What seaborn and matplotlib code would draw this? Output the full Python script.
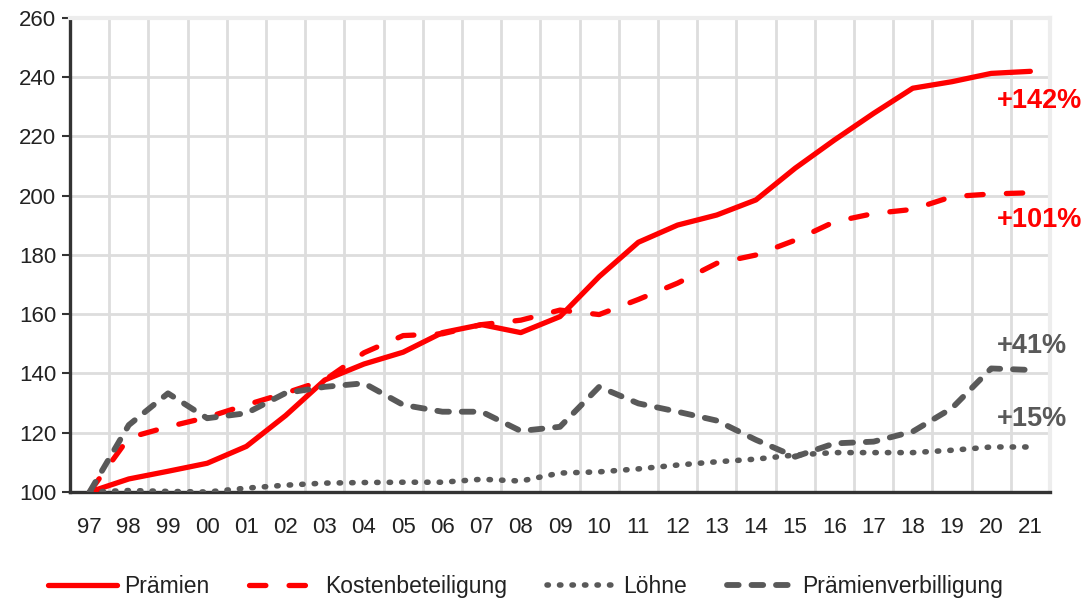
import numpy as np
import pandas as pd
import matplotlib
matplotlib.use("Agg")
import matplotlib.pyplot as plt
import seaborn as sns

years = ["97", "98", "99", "00", "01", "02", "03", "04", "05", "06", "07", "08",
         "09", "10", "11", "12", "13", "14", "15", "16", "17", "18", "19", "20", "21"]
praemien = [100, 104.4, 107, 109.7, 115.4, 125.8, 137.8, 143.2, 147.2, 153.8, 156.5,
            153.8, 159.2, 172.7, 184.3, 190.1, 193.5, 198.6, 209.3, 218.8, 227.8,
            236.3, 238.5, 241.3, 242.0]
kosten = [100, 118.3, 122, 125.2, 129.4, 133.4, 137.8, 147.0, 152.8, 153.4, 156.5,
          158.0, 161.4, 159.9, 165.0, 170.5, 177.2, 180.0, 185.0, 191.2, 194.0,
          195.4, 199.7, 200.6, 201.0]
loehne = [100, 100.5, 100.2, 100, 101.3, 102.3, 103.0, 103.2, 103.3, 103.3, 104.3,
          103.7, 106.4, 106.8, 107.8, 109.1, 110.2, 111.1, 112.5, 113.3, 113.3,
          113.3, 114.1, 115.2, 115.2]
verbilligung = [100, 122.6, 133.3, 124.9, 126.6, 133.4, 135.5, 136.7, 129.4, 127.1,
                127.1, 120.6, 122.0, 135.5, 129.9, 127.1, 124.1, 117.6, 111.9, 116.4,
                117.0, 120.4, 128.3, 141.7, 141.2]
series_names = ["Prämien", "Kostenbeteiligung", "Löhne", "Prämienverbilligung"]
end_labels = ["+142%", "+101%", "+41%", "+15%"]
end_label_y = [232, 191.8, 149.3, 124.6]

sns.set_theme(style="white")
plt.rcParams["font.family"] = ["Liberation Sans", "DejaVu Sans"]

RED = "#ff0000"
GRAY = "#595959"

fig = plt.figure(figsize=(10.85, 6.0), dpi=100)
ax = fig.add_axes([0.0645, 0.18, 0.9032, 0.79])

x = np.arange(len(years))
styles = [
    dict(color=RED, lw=3.8, ls="-"),
    dict(color=RED, lw=3.8, dashes=(3.1, 4.4)),
    dict(color=GRAY, lw=4.0, dashes=(0.25, 2.0)),
    dict(color=GRAY, lw=4.2, dashes=(2.0, 2.2)),
]
data = [praemien, kosten, loehne, verbilligung]
for name, vals, st in zip(series_names, data, styles):
    df = pd.DataFrame({"x": x, "y": vals})
    sns.lineplot(data=df, x="x", y="y", ax=ax, color=st["color"], linewidth=st["lw"],
                 label=name, zorder=3)
    line = ax.lines[-1]
    if "dashes" in st:
        line.set_dashes(st["dashes"])
        line.set_dash_capstyle("round")
    line.set_solid_capstyle("round")
    line.set_solid_joinstyle("round")

ax.set_xlim(-0.5, len(years) - 0.5)
ax.set_ylim(100, 260)
ax.set_yticks(np.arange(100, 261, 20))
ax.set_xticks(x)
ax.set_xticklabels(years)
ax.set_xticks(np.arange(0.5, len(years) - 0.5, 1), minor=True)
ax.set_xlabel("")
ax.set_ylabel("")

ax.grid(True, axis="y", which="major", color="#dddddd", lw=2, zorder=0)
ax.grid(True, axis="x", which="minor", color="#dddddd", lw=2, zorder=0)
ax.grid(False, axis="x", which="major")
ax.set_axisbelow(True)

for s in ["left", "bottom"]:
    ax.spines[s].set_color("#333333")
    ax.spines[s].set_linewidth(2.4)
for s in ["top", "right"]:
    ax.spines[s].set_color("#ededed")
    ax.spines[s].set_linewidth(3)

ax.tick_params(axis="y", which="major", left=True, length=6, width=1.5, color="#333333",
               labelsize=16, labelcolor="#222222", pad=4)
ax.tick_params(axis="x", which="both", bottom=False, labelsize=16, labelcolor="#222222", pad=12)

colors_lbl = [RED, RED, GRAY, GRAY]
for lbl, yv, c in zip(end_labels, end_label_y, colors_lbl):
    ax.text(23.15, yv, lbl, color=c, fontsize=19.5, fontweight="bold", ha="left",
            va="center", clip_on=False)

leg = ax.legend(loc="center", bbox_to_anchor=(0.465, -0.20), ncol=4, frameon=False,
                fontsize=16.5, handlelength=3.0, columnspacing=1.75, handletextpad=0.3)
for t in leg.get_texts():
    t.set_color("#222222")

fig.savefig("out.png", dpi=100)
